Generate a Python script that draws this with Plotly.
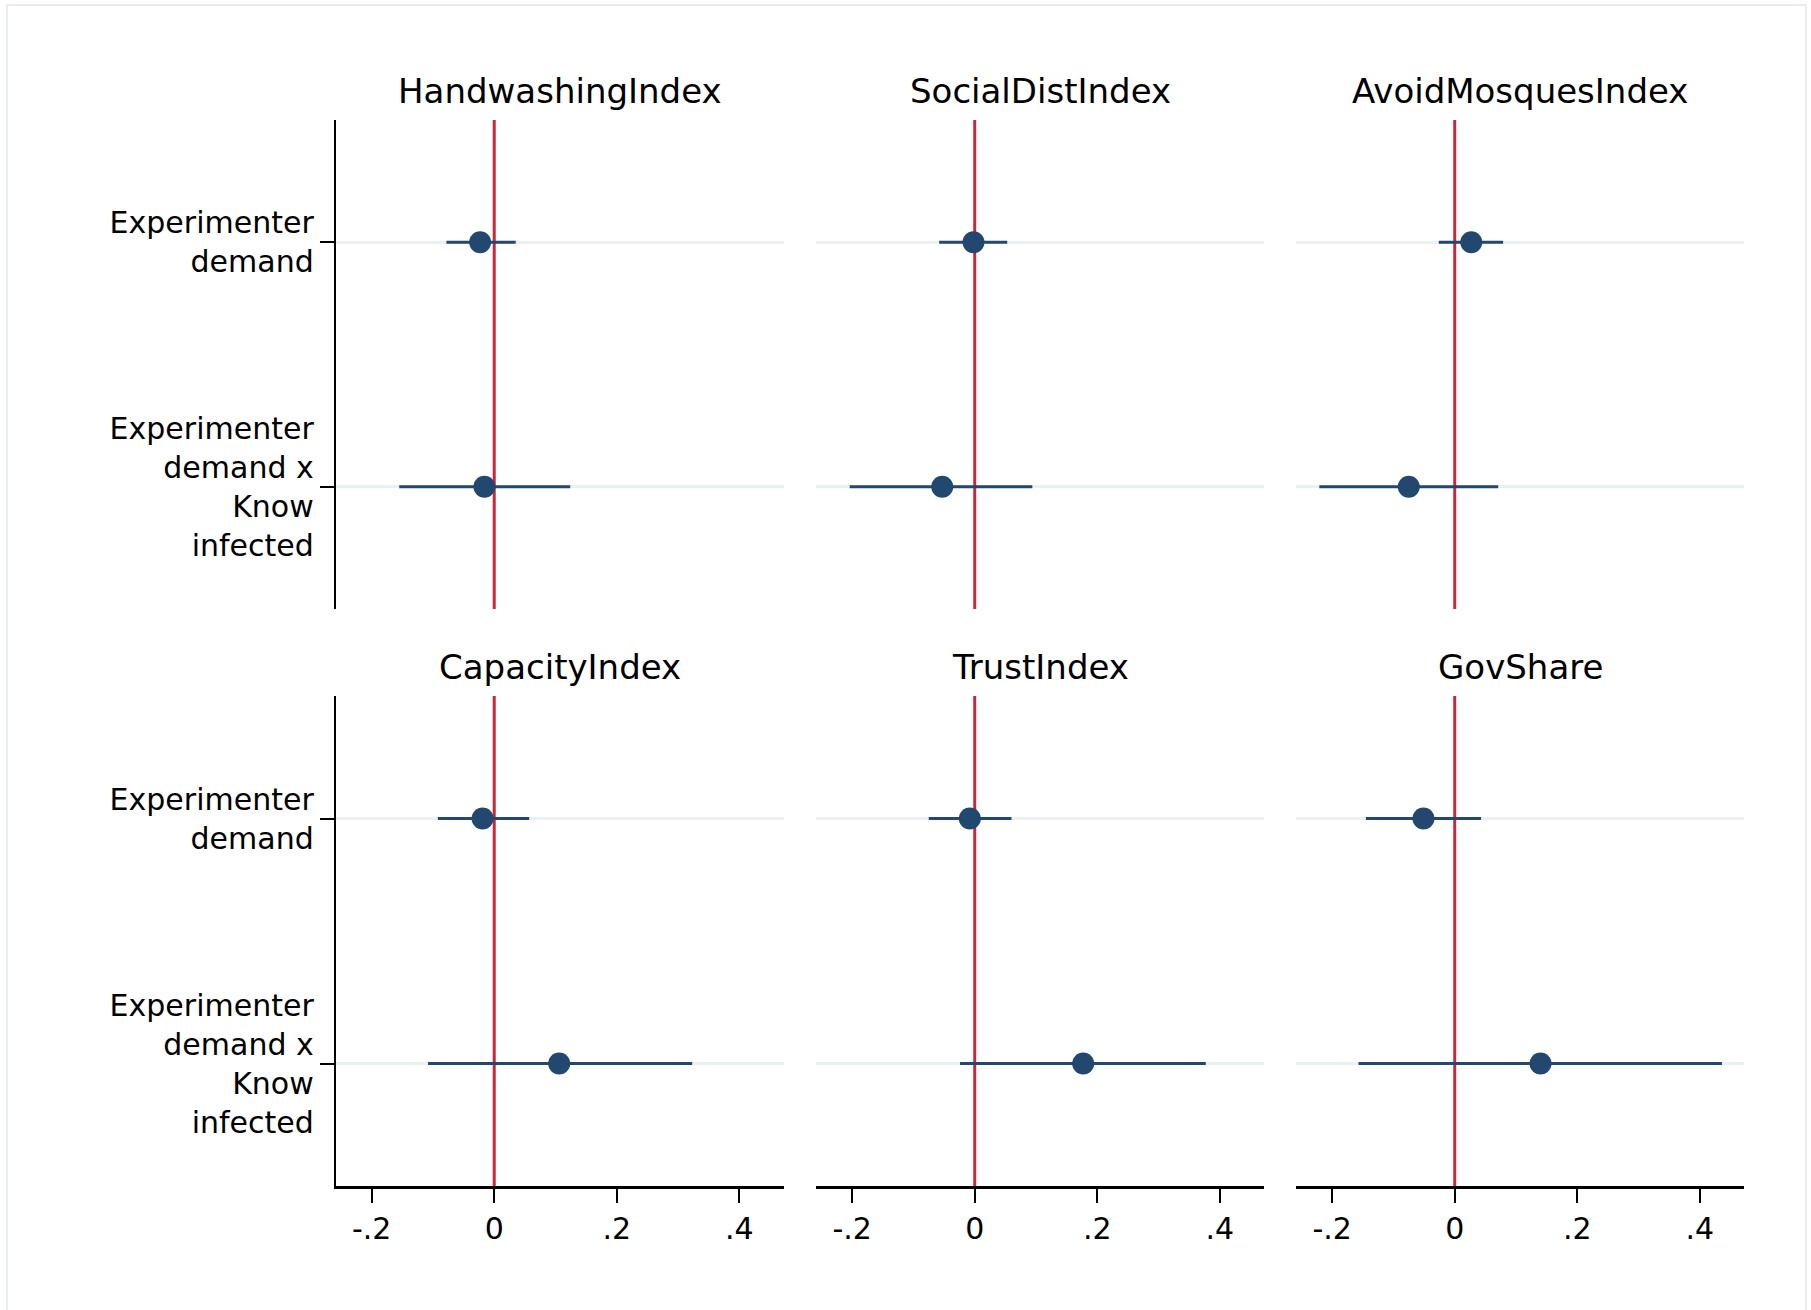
import plotly.graph_objects as go

# ---------------- data ----------------
panel_titles = ["HandwashingIndex", "SocialDistIndex", "AvoidMosquesIndex",
                "CapacityIndex", "TrustIndex", "GovShare"]
coef_labels = ["Experimenter<br>demand", "Experimenter<br>demand x<br>Know<br>infected"]
coef_pos = [1, 2]

estimates = [
    [-0.023, -0.016],   # HandwashingIndex
    [-0.002, -0.053],   # SocialDistIndex
    [0.027, -0.075],    # AvoidMosquesIndex
    [-0.019, 0.106],    # CapacityIndex
    [-0.008, 0.177],    # TrustIndex
    [-0.051, 0.140],    # GovShare
]
ci_low = [
    [-0.078, -0.155],
    [-0.058, -0.204],
    [-0.026, -0.221],
    [-0.092, -0.108],
    [-0.075, -0.024],
    [-0.145, -0.157],
]
ci_high = [
    [0.035, 0.124],
    [0.053, 0.094],
    [0.079, 0.071],
    [0.057, 0.323],
    [0.060, 0.377],
    [0.043, 0.436],
]
x_tickvals = [-0.2, 0, 0.2, 0.4]
x_ticktext = ["-.2", "0", ".2", ".4"]
x_range = [-0.259, 0.472]
y_range = [2.5, 0.5]
ref_value = 0

# ---------------- style ----------------
W, H = 1811, 1310
NAVY = "#22486F"
RED = "#C8283C"
GRID = "#EAF1F3"
FONT = "DejaVu Sans"

col_px = [(335.5, 783.5), (816, 1264), (1296, 1744)]
row_px = [(120, 609), (696, 1186)]

fig = go.Figure()
layout = dict(
    width=W, height=H, autosize=False,
    margin=dict(l=0, r=0, t=0, b=0),
    paper_bgcolor="white", plot_bgcolor="white",
    showlegend=False,
    font=dict(family=FONT, color="black"),
)
annotations = []

for i in range(6):
    r, c = divmod(i, 3)
    n = i + 1
    xa = "xaxis" if n == 1 else f"xaxis{n}"
    ya = "yaxis" if n == 1 else f"yaxis{n}"
    xr = "x" if n == 1 else f"x{n}"
    yr = "y" if n == 1 else f"y{n}"
    xd = [col_px[c][0] / W, col_px[c][1] / W]
    yd = [1 - row_px[r][1] / H, 1 - row_px[r][0] / H]

    bottom = (r == 1)
    layout[xa] = dict(
        domain=xd, anchor=yr, range=x_range,
        tickvals=x_tickvals, ticktext=x_ticktext,
        showticklabels=bottom, ticks="outside" if bottom else "",
        ticklen=14, tickwidth=1.5, tickcolor="black",
        showline=bottom, linecolor="black", linewidth=2.5,
        showgrid=False, zeroline=False,
        tickfont=dict(size=30, family=FONT),
        fixedrange=True,
    )
    left = (c == 0)
    layout[ya] = dict(
        domain=yd, anchor=xr, range=y_range,
        tickvals=coef_pos, ticktext=coef_labels,
        showticklabels=left, ticks="outside" if left else "",
        ticklen=14, tickwidth=1.5, tickcolor="black",
        showline=left, linecolor="black", linewidth=1.5,
        showgrid=True, gridcolor=GRID, gridwidth=3,
        zeroline=False,
        tickfont=dict(size=30, family=FONT),
        fixedrange=True,
    )

    # reference line at zero, spanning the full y range
    fig.add_trace(go.Scatter(
        x=[ref_value, ref_value], y=y_range, xaxis=xr, yaxis=yr,
        mode="lines", line=dict(color=RED, width=3), hoverinfo="skip",
    ))

    est = estimates[i]
    lo = ci_low[i]
    hi = ci_high[i]
    fig.add_trace(go.Scatter(
        x=est, y=coef_pos, xaxis=xr, yaxis=yr, mode="markers",
        marker=dict(size=22, color=NAVY),
        error_x=dict(type="data", symmetric=False,
                     array=[h - e for h, e in zip(hi, est)],
                     arrayminus=[e - l for e, l in zip(est, lo)],
                     width=0, thickness=3.2, color=NAVY),
        hoverinfo="skip",
    ))

    annotations.append(dict(
        text=panel_titles[i], xref="paper", yref="paper",
        x=(xd[0] + xd[1]) / 2, y=yd[1] + 29 / H,
        xanchor="center", yanchor="middle", showarrow=False,
        font=dict(size=34, family=FONT, color="black"),
    ))

# outer faint frame
shapes = [dict(type="rect", xref="paper", yref="paper",
               x0=7 / W, x1=1806 / W, y0=-0.01, y1=1 - 5 / H,
               line=dict(color="#E9EDED", width=2))]

layout["annotations"] = annotations
layout["shapes"] = shapes
fig.update_layout(**layout)
fig.write_html("out.html")
